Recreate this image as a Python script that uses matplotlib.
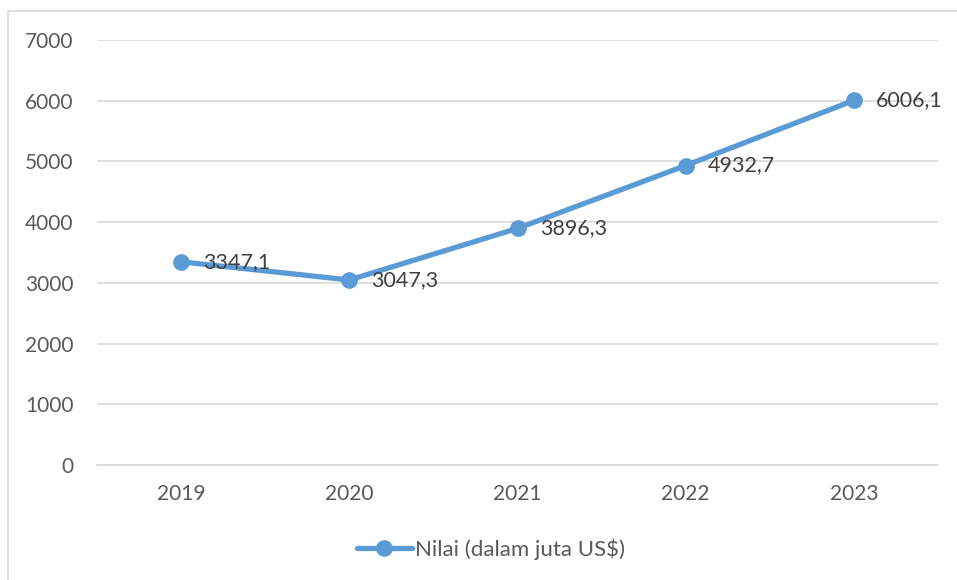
import matplotlib.pyplot as plt
from matplotlib.patches import Rectangle

# data
years = ['2019', '2020', '2021', '2022', '2023']
nilai = [3347.1, 3047.3, 3896.3, 4932.7, 6006.1]
y_ticks = [0, 1000, 2000, 3000, 4000, 5000, 6000, 7000]

plt.rcParams['font.family'] = ['Lato', 'DejaVu Sans']

W, H = 957, 580
fig = plt.figure(figsize=(W / 100, H / 100), dpi=100)
ax = fig.add_axes([97 / W, 1 - 465 / H, (938 - 97) / W, (465 - 40) / H])

# chart border like excel
fig.patches.append(Rectangle((8 / W, -0.1), 1.2, 1 - 11 / H + 0.1, transform=fig.transFigure,
                             fill=False, ec='#D9D9D9', lw=1.2, zorder=0))

blue = '#5B9BD5'
x = list(range(len(years)))
ax.plot(x, nilai, color=blue, lw=3.8, marker='o', markersize=11, solid_capstyle='round',
        label='Nilai (dalam juta US$)', zorder=3)

for xi, v in zip(x, nilai):
    ax.annotate(f"{v:.1f}".replace('.', ','), (xi, v), xytext=(16, 0), textcoords='offset points',
                va='center', ha='left', fontsize=15.5, color='#404040', zorder=4)

ax.set_xlim(-0.5, len(years) - 0.5)
ax.set_ylim(0, 7000)
ax.set_yticks(y_ticks)
ax.set_xticks(x)
ax.set_xticklabels(years)
ax.grid(axis='y', color='#D9D9D9', lw=1.2)
ax.set_axisbelow(True)
for s in ['top', 'right', 'left']:
    ax.spines[s].set_visible(False)
ax.spines['bottom'].set_color('#D9D9D9')
ax.spines['bottom'].set_linewidth(1.2)
ax.tick_params(axis='both', length=0, labelsize=15, labelcolor='#595959')
ax.tick_params(axis='y', pad=17)
ax.tick_params(axis='x', pad=14)

fig.legend(loc='center', bbox_to_anchor=(491 / W, 31 / H), frameon=False, fontsize=16,
           handlelength=2.5, handletextpad=0.15, labelcolor='#595959')

fig.savefig('out.png', dpi=100)
